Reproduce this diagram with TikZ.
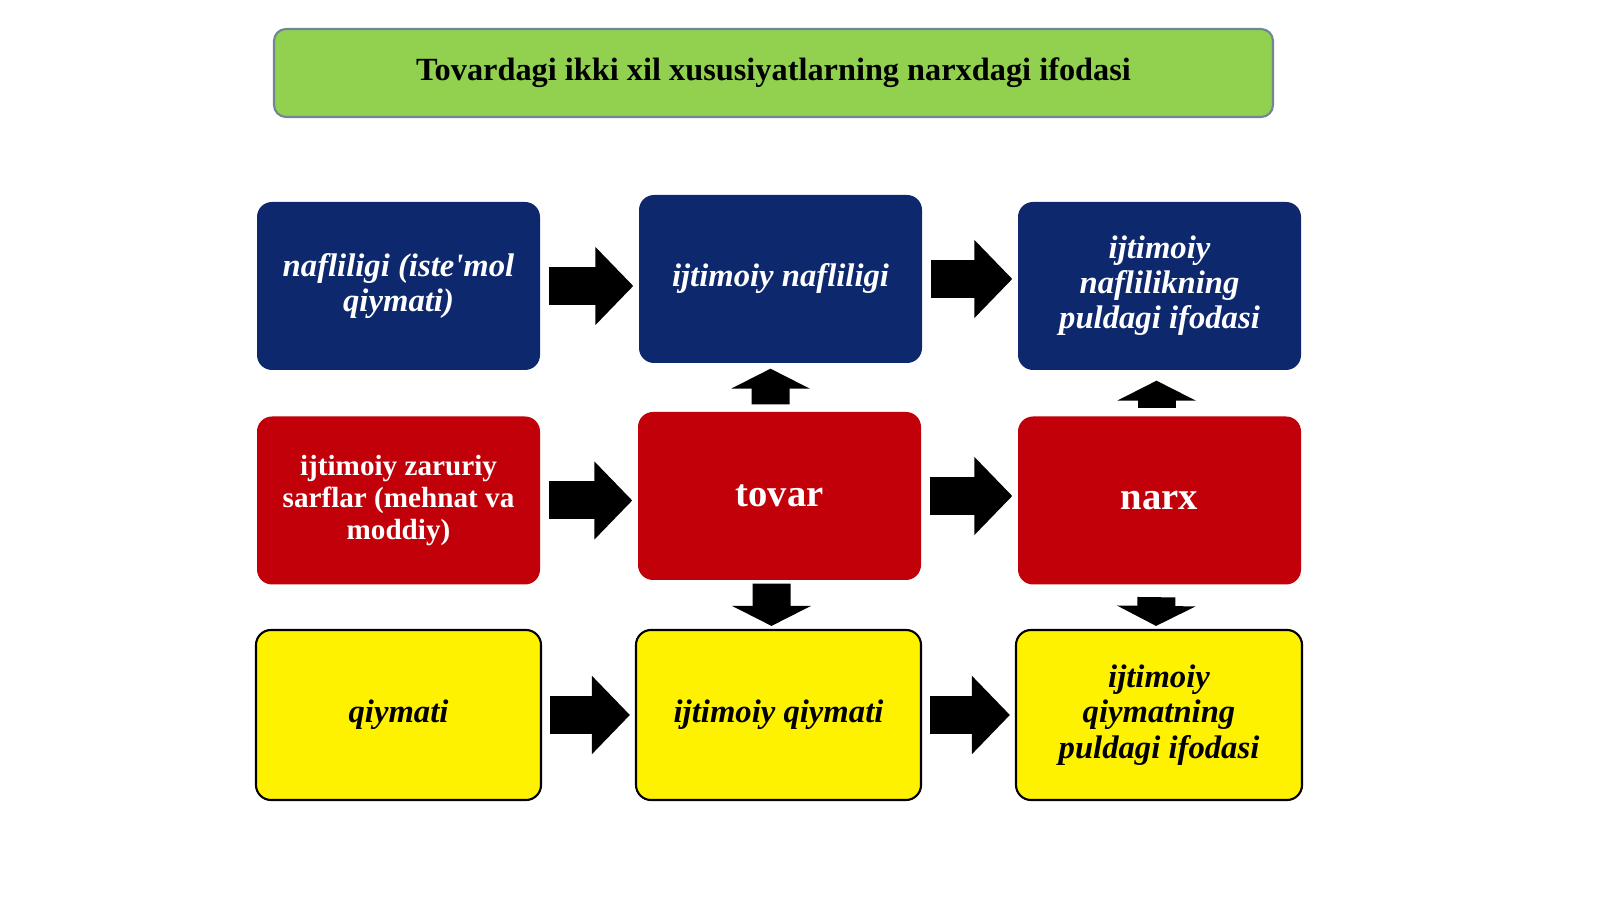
\documentclass[tikz,border=0pt]{standalone}
\usepackage{fontspec}
\setmainfont{Liberation Serif}
\usetikzlibrary{arrows.meta}
\definecolor{titlegreen}{RGB}{146,208,80}
\definecolor{titleline}{RGB}{112,134,150}
\definecolor{navy}{RGB}{14,40,110}
\definecolor{darkred}{RGB}{194,0,10}

\begin{document}
\begin{tikzpicture}
  % Styles
  \tikzstyle{box}=[rounded corners=0.15cm, minimum width=2.83cm, minimum height=1.68cm, align=center, inner sep=0pt]
  \tikzstyle{bluebox}=[box, fill=navy, text=white, font=\fontsize{9.3}{10}\selectfont\bfseries\itshape]
  \tikzstyle{redbox}=[box, fill=darkred, text=white, font=\fontsize{8.3}{9.1}\selectfont\bfseries]
  \tikzstyle{bigred}=[redbox, font=\fontsize{11}{12}\selectfont\bfseries]
  \tikzstyle{yellowbox}=[box, fill=yellow, draw=black, line width=0.6pt, minimum width=2.85cm, minimum height=1.70cm, font=\fontsize{9.3}{10}\selectfont\bfseries\itshape]
  \tikzstyle{harrow}=[line width=0.38cm, -{Triangle[width=0.76cm,length=0.38cm]}, shorten <=0.08cm, shorten >=0.05cm]
  \tikzstyle{varrow}=[line width=0.38cm, -{Triangle[width=0.78cm,length=0.2cm]}]

  \fill[white] (0,0) rectangle (16,-8.99);
  \useasboundingbox (0,0) rectangle (16,-8.99);

  % Title
  \node[draw=titleline, line width=0.6pt, fill=titlegreen, rounded corners=0.12cm, minimum width=9.99cm, minimum height=0.88cm, font=\fontsize{9.2}{10}\selectfont\bfseries] (title) at (7.735,-0.73) {Tovardagi ikki xil xususiyatlarning narxdagi ifodasi};

  % Top row
  \node[bluebox] (naf) at (3.985,-2.86) {nafliligi (iste\textquotesingle mol\\qiymati)};
  \node[bluebox] (ijnaf) at (7.805,-2.79) {ijtimoiy nafliligi};
  \node[bluebox] (pulnaf) at (11.595,-2.86) {ijtimoiy\\naflilikning\\puldagi ifodasi};

  % Middle row
  \node[redbox] (sarf) at (3.985,-5.005) {ijtimoiy zaruriy\\sarflar (mehnat va\\moddiy)};
  \node[bigred] (tovar) at (7.795,-4.96) {tovar};
  \node[bigred] (narx) at (11.595,-5.005) {narx};

  % Bottom row
  \node[yellowbox] (qiy) at (3.985,-7.15) {qiymati};
  \node[yellowbox] (ijqiy) at (7.785,-7.15) {ijtimoiy qiymati};
  \node[yellowbox, minimum width=2.86cm] (pulqiy) at (11.59,-7.15) {ijtimoiy\\qiymatning\\puldagi ifodasi};

  % Horizontal arrows
  \draw[harrow] (naf.east) -- (naf.east -| ijnaf.west);
  \draw[harrow] (ijnaf.east) -- (ijnaf.east -| pulnaf.west);
  \draw[harrow] (sarf.east) -- (sarf.east -| tovar.west);
  \draw[harrow] (tovar.east) -- (tovar.east -| narx.west);
  \draw[harrow] (qiy.east) -- (qiy.east -| ijqiy.west);
  \draw[harrow] (ijqiy.east) -- (ijqiy.east -| pulqiy.west);

  % Vertical arrows
  \draw[varrow, shorten <=0.07cm, shorten >=0.05cm] ([xshift=-0.09cm]tovar.north) -- ([xshift=-0.1cm]ijnaf.south);
  \draw[varrow, shorten <=0.03cm, shorten >=0.03cm] ([xshift=-0.08cm]tovar.south) -- ([xshift=-0.07cm]ijqiy.north);
  \draw[varrow, shorten <=0.08cm, shorten >=0.10cm] ([xshift=-0.03cm]narx.north) -- ([xshift=-0.03cm]pulnaf.south);
  \draw[varrow, shorten <=0.12cm, shorten >=0.03cm] ([xshift=-0.03cm]narx.south) -- ([xshift=-0.03cm]pulqiy.north);
\end{tikzpicture}
\end{document}
